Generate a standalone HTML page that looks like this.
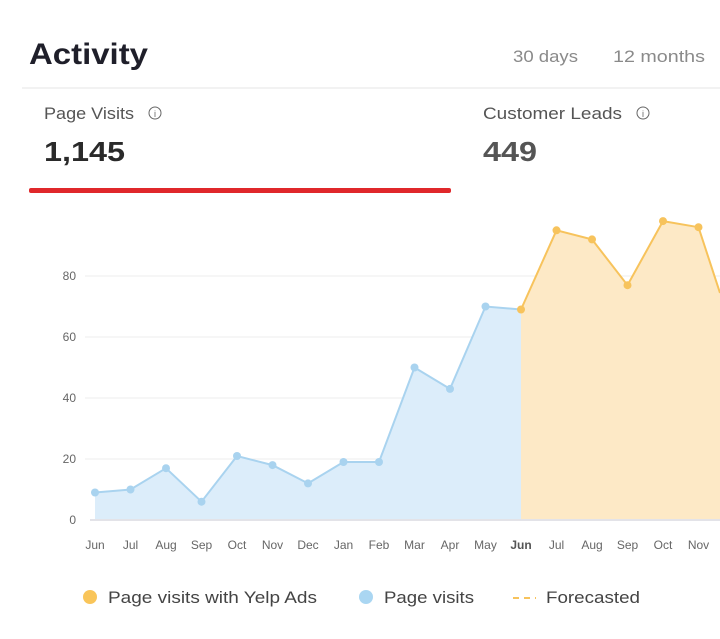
<!DOCTYPE html>
<html><head><meta charset="utf-8"><style>
body{margin:0;width:720px;height:639px;background:#fff;overflow:hidden;font-family:"Liberation Sans",sans-serif;}
</style></head><body>
<svg width="720" height="639" xmlns="http://www.w3.org/2000/svg" style="display:block">
<text x="29" y="64" font-size="30" font-weight="bold" fill="#1f1f2a" textLength="119" lengthAdjust="spacingAndGlyphs">Activity</text>
<text x="513" y="62" font-size="17" fill="#8a8a8a" textLength="65" lengthAdjust="spacingAndGlyphs">30 days</text>
<text x="613" y="62" font-size="17" fill="#8a8a8a" textLength="92" lengthAdjust="spacingAndGlyphs">12 months</text>
<line x1="22" y1="88" x2="720" y2="88" stroke="#e6e6e6" stroke-width="1"/>
<text x="44" y="119" font-size="17" fill="#555" textLength="90" lengthAdjust="spacingAndGlyphs">Page Visits</text>
<circle cx="155" cy="113" r="6" fill="none" stroke="#666" stroke-width="1"/><text x="155" y="117" font-size="9" text-anchor="middle" fill="#666">i</text>
<text x="44" y="161" font-size="28" font-weight="bold" fill="#2a2a2a" textLength="81" lengthAdjust="spacingAndGlyphs">1,145</text>
<text x="483" y="119" font-size="17" fill="#555" textLength="139" lengthAdjust="spacingAndGlyphs">Customer Leads</text>
<circle cx="643" cy="113" r="6" fill="none" stroke="#666" stroke-width="1"/><text x="643" y="117" font-size="9" text-anchor="middle" fill="#666">i</text>
<text x="483" y="161" font-size="28" font-weight="bold" fill="#555" textLength="54" lengthAdjust="spacingAndGlyphs">449</text>
<rect x="29" y="188" width="422" height="5" rx="2" fill="#e0282b"/>
<g stroke="#eeeeee" stroke-width="1">
<line x1="85" y1="276" x2="720" y2="276"/><line x1="85" y1="337" x2="720" y2="337"/>
<line x1="85" y1="398" x2="720" y2="398"/><line x1="85" y1="459" x2="720" y2="459"/>
</g>
<g font-size="12" fill="#666" text-anchor="end">
<text x="76" y="280">80</text><text x="76" y="341">60</text><text x="76" y="402">40</text><text x="76" y="463">20</text><text x="76" y="524">0</text>
</g>
<polygon points="95,520 95,492.5 130.5,489.5 166,468.2 201.5,501.7 237,456 272.5,465.1 308,483.4 343.5,462 379,462 414.5,367.5 450,388.9 485.5,306.5 521,309.5 521,520" fill="#dcedfa"/>
<polyline points="95,492.5 130.5,489.5 166,468.2 201.5,501.7 237,456 272.5,465.1 308,483.4 343.5,462 379,462 414.5,367.5 450,388.9 485.5,306.5 521,309.5" fill="none" stroke="#a9d3ef" stroke-width="2"/>
<polygon points="521,520 521,309.5 556.5,230.3 592,239.4 627.5,285.2 663,221.1 698.5,227.2 720,293 720,520" fill="#fde9c6"/>
<polyline points="521,309.5 556.5,230.3 592,239.4 627.5,285.2 663,221.1 698.5,227.2 720,293" fill="none" stroke="#f7c35c" stroke-width="2"/>
<line x1="90" y1="520" x2="720" y2="520" stroke="#e3e3e8" stroke-width="2"/>
<g fill="#a9d3ef">
<circle cx="95" cy="492.5" r="4"/><circle cx="130.5" cy="489.5" r="4"/><circle cx="166" cy="468.2" r="4"/><circle cx="201.5" cy="501.7" r="4"/><circle cx="237" cy="456" r="4"/><circle cx="272.5" cy="465.1" r="4"/><circle cx="308" cy="483.4" r="4"/><circle cx="343.5" cy="462" r="4"/><circle cx="379" cy="462" r="4"/><circle cx="414.5" cy="367.5" r="4"/><circle cx="450" cy="388.9" r="4"/><circle cx="485.5" cy="306.5" r="4"/>
</g>
<g fill="#f7c35c">
<circle cx="521" cy="309.5" r="4"/><circle cx="556.5" cy="230.3" r="4"/><circle cx="592" cy="239.4" r="4"/><circle cx="627.5" cy="285.2" r="4"/><circle cx="663" cy="221.1" r="4"/><circle cx="698.5" cy="227.2" r="4"/>
</g>
<g font-size="12" fill="#666" text-anchor="middle">
<text x="95" y="549">Jun</text><text x="130.5" y="549">Jul</text><text x="166" y="549">Aug</text><text x="201.5" y="549">Sep</text><text x="237" y="549">Oct</text><text x="272.5" y="549">Nov</text><text x="308" y="549">Dec</text><text x="343.5" y="549">Jan</text><text x="379" y="549">Feb</text><text x="414.5" y="549">Mar</text><text x="450" y="549">Apr</text><text x="485.5" y="549">May</text><text x="521" y="549" font-weight="bold" fill="#555">Jun</text><text x="556.5" y="549">Jul</text><text x="592" y="549">Aug</text><text x="627.5" y="549">Sep</text><text x="663" y="549">Oct</text><text x="698.5" y="549">Nov</text>
</g>
<circle cx="90" cy="597" r="7" fill="#f9c55a"/>
<text x="108" y="603" font-size="17" fill="#444" textLength="209" lengthAdjust="spacingAndGlyphs">Page visits with Yelp Ads</text>
<circle cx="366" cy="597" r="7" fill="#aad6f2"/>
<text x="384" y="603" font-size="17" fill="#444" textLength="90" lengthAdjust="spacingAndGlyphs">Page visits</text>
<line x1="513" y1="598" x2="536" y2="598" stroke="#f7c35c" stroke-width="2" stroke-dasharray="6,5"/>
<text x="546" y="603" font-size="17" fill="#444" textLength="94" lengthAdjust="spacingAndGlyphs">Forecasted</text>
</svg>
</body></html>
